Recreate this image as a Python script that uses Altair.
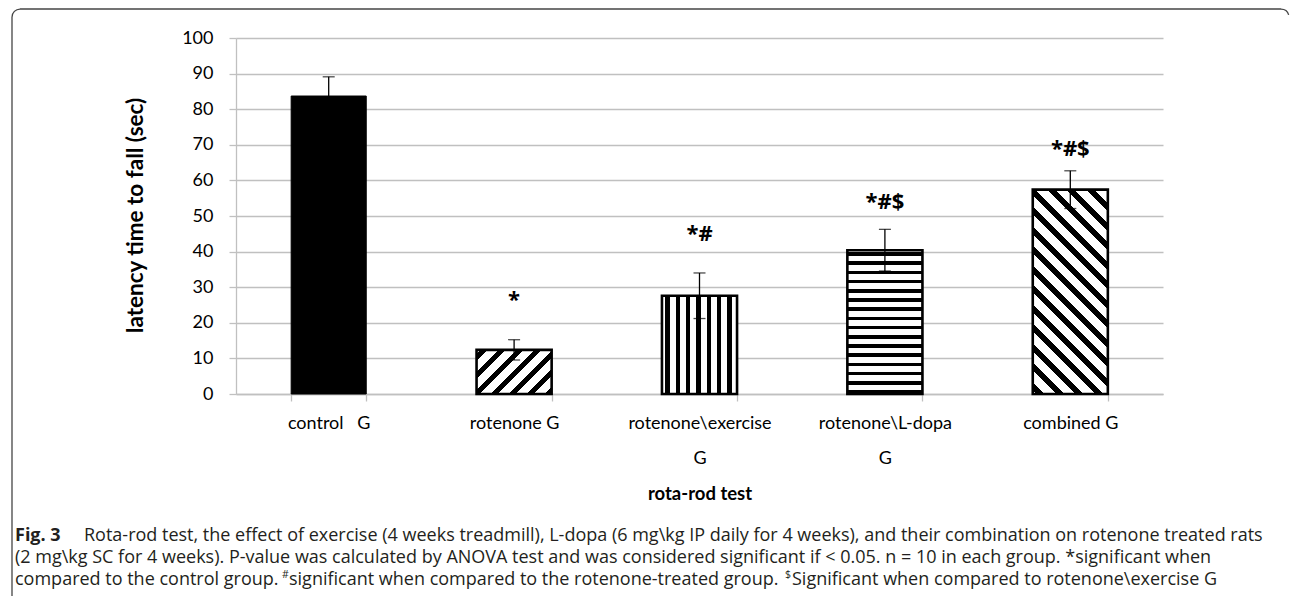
import math
import altair as alt
import pandas as pd

# ---------------- data ----------------
categories = ["control\u00a0\u00a0\u00a0G", "rotenone G", "rotenone\\exercise\nG", "rotenone\\L-dopa\nG", "combined G"]
means = [83.7, 12.4, 27.6, 40.4, 57.4]
errors = [5.4, 2.85, 6.4, 5.85, 5.3]
sig_labels = ["*", "*#", "*#$", "*#$"]
sig_groups = categories[1:]
sig_y = [26.5, 45.0, 53.8, 68.8]
patterns = ["solid", "diag_up", "vertical", "horizontal", "diag_down"]

y_ticks = list(range(0, 101, 10))

caption_line1_bold = "Fig. 3"
caption_line1 = "Rota-rod test, the effect of exercise (4 weeks treadmill), L-dopa (6 mg\\kg IP daily for 4 weeks), and their combination on rotenone treated rats"
caption_line2 = "(2 mg\\kg SC for 4 weeks). P-value was calculated by ANOVA test and was considered significant if < 0.05. n = 10 in each group. *significant when"
caption_line3a = "compared to the control group."
caption_line3b = "significant when compared to the rotenone-treated group."
caption_line3c = "Significant when compared to rotenone\\exercise G"

df = pd.DataFrame({"group": categories, "mean": means, "err": errors})
df["lo"] = df["mean"] - df["err"]
df["hi"] = df["mean"] + df["err"]
ann_df = pd.DataFrame({"group": sig_groups, "label": sig_labels, "ypos": sig_y})

# ---------------- layout ----------------
PLOT_W, PLOT_H = 927, 356
FONT = "Lato"
ANN_FONT = "Open Sans"
CAP_FONT = "Open Sans"
CAP_SIZE = 18
GRID = "#c0c0c0"
BAR_W = 75.0


def stops(total, period, black, start):
    res = [{"offset": 0, "color": "white"}]
    p = start
    while p < total:
        a = max(p, 0) / total
        b = min(p + black, total) / total
        if p + black > 0:
            res += [
                {"offset": round(a, 5), "color": "white"},
                {"offset": round(a, 5), "color": "black"},
                {"offset": round(b, 5), "color": "black"},
                {"offset": round(b, 5), "color": "white"},
            ]
        p += period
    res.append({"offset": 1, "color": "white"})
    return res


def pattern_fill(kind, value):
    H = value / 100.0 * PLOT_H
    W = BAR_W
    if kind == "solid":
        return "black"
    if kind == "vertical":
        return {"gradient": "linear", "x1": 0, "y1": 0, "x2": 1, "y2": 0,
                "stops": stops(W, 10.3, 4.3, 3.5)}
    if kind == "horizontal":
        return {"gradient": "linear", "x1": 0, "y1": 0, "x2": 0, "y2": 1,
                "stops": stops(H, 9.2, 3.6, 2.0)}
    c = (W + H) / (W * W + H * H)
    if kind == "diag_up":
        return {"gradient": "linear", "x1": 0, "y1": 0, "x2": c * W, "y2": c * H,
                "stops": stops(W + H, 18.0, 7.5, 4.0)}
    return {"gradient": "linear", "x1": 0, "y1": 1, "x2": c * W, "y2": 1 - c * H,
            "stops": stops(W + H, 19.5, 8.0, 4.0)}


x_enc = alt.X(
    "group:N",
    sort=categories,
    scale=alt.Scale(domain=categories, paddingInner=0.595, paddingOuter=0.2975),
    axis=alt.Axis(
        title="rota-rod test", titleFont=FONT, titleFontSize=18.5, titleFontWeight="bold",
        titleColor="black", titleX=PLOT_W / 2, titleY=99, titleAlign="center",
        titleBaseline="middle", labelFont=FONT, labelFontSize=18, labelColor="black",
        labelLineHeight=35, labelExpr="split(datum.label, '\\n')", labelAngle=0,
        labelPadding=13, tickBand="extent", tickSize=7, tickColor=GRID,
        domainColor=GRID, domainWidth=1.3, tickWidth=1.3,
    ),
)


def y_enc(field):
    return alt.Y(
        field,
        scale=alt.Scale(domain=[0, 100], nice=False),
        axis=alt.Axis(
            values=y_ticks, title="latency time to fall (sec)", titleFont=FONT,
            titleFontSize=22.5, titleFontWeight="bold", titleColor="black",
            titleX=-101, titleY=177, titleAngle=270, titleAlign="center",
            titleBaseline="middle", labelFont=FONT, labelFontSize=18,
            labelColor="black", labelPadding=16, tickSize=7, tickColor=GRID,
            tickWidth=1.3, domainColor=GRID, domainWidth=1.3, gridColor=GRID,
            gridWidth=1.3,
        ),
    )


base = alt.Chart(df)
layers = []
for cat, val, pat in zip(categories, means, patterns):
    layers.append(
        base.transform_filter(alt.datum.group == cat)
        .mark_bar(fill=pattern_fill(pat, val), stroke="black",
                  strokeWidth=1 if pat == "solid" else 2.6)
        .encode(x=x_enc, y=y_enc("mean:Q"))
    )

err_rule = base.mark_rule(color="black", strokeWidth=1.3).encode(
    x=x_enc, y=y_enc("lo:Q"), y2="hi:Q")
cap_hi = base.mark_tick(color="black", size=12, thickness=1.3, orient="horizontal").encode(
    x=x_enc, y=y_enc("hi:Q"))
cap_lo = base.mark_tick(color="black", size=12, thickness=1.3, orient="horizontal").encode(
    x=x_enc, y=y_enc("lo:Q"))

ann = alt.Chart(ann_df).mark_text(font=ANN_FONT, fontSize=22, fontWeight="bold",
                                  baseline="middle", color="black").encode(
    x=x_enc, y=y_enc("ypos:Q"), text="label:N")


def txt(s, x, y, size=CAP_SIZE, weight="normal", font=CAP_FONT):
    return alt.Chart(pd.DataFrame({"t": [s]})).mark_text(
        font=font, fontSize=size, fontWeight=weight, align="left",
        baseline="middle", color="#231f20").encode(
        x=alt.value(x), y=alt.value(y), text="t:N")


OX, OY = 236, 38
captions = [
    txt(caption_line1_bold, 15 - OX, 536 - OY, weight="bold"),
    txt(caption_line1, 84 - OX, 536 - OY),
    txt(caption_line2, 15 - OX, 558 - OY),
    txt(caption_line3a, 15 - OX, 580 - OY),
    txt("#", 282 - OX, 575 - OY, size=10.5),
    txt(caption_line3b, 289 - OX, 580 - OY),
    txt("$", 785 - OX, 575 - OY, size=10.5),
    txt(caption_line3c, 792 - OX, 580 - OY),
]

FR = "#444444"
frame_df = pd.DataFrame({"k": [0]})
frame_top = alt.Chart(frame_df).mark_rule(color=FR, strokeWidth=1.3).encode(
    x=alt.value(20 - OX), x2=alt.value(1281 - OX), y=alt.value(9 - OY))
frame_left = alt.Chart(frame_df).mark_rule(color=FR, strokeWidth=1.3).encode(
    x=alt.value(12 - OX), y=alt.value(17 - OY), y2=alt.value(600 - OY))
corner_l = alt.Chart(frame_df).mark_arc(radius=8.6, innerRadius=7.3, theta=4.712,
                                        theta2=6.2832, fill=FR).encode(
    x=alt.value(20 - OX), y=alt.value(17 - OY))
corner_r = alt.Chart(frame_df).mark_arc(radius=8.6, innerRadius=7.3, theta=0.0,
                                        theta2=1.3, fill=FR).encode(
    x=alt.value(1281 - OX), y=alt.value(17 - OY))

chart = alt.layer(
    *layers, err_rule, cap_hi, cap_lo, ann, *captions,
    frame_top, frame_left, corner_l, corner_r,
).properties(
    width=PLOT_W, height=PLOT_H,
    padding={"left": OX, "top": OY, "right": 1295 - OX - PLOT_W, "bottom": 596 - OY - PLOT_H},
    autosize=alt.AutoSizeParams(type="none"),
    background="white",
).configure_view(stroke=None)

chart.save("out.html", embed_options={"renderer": "svg", "actions": False})
